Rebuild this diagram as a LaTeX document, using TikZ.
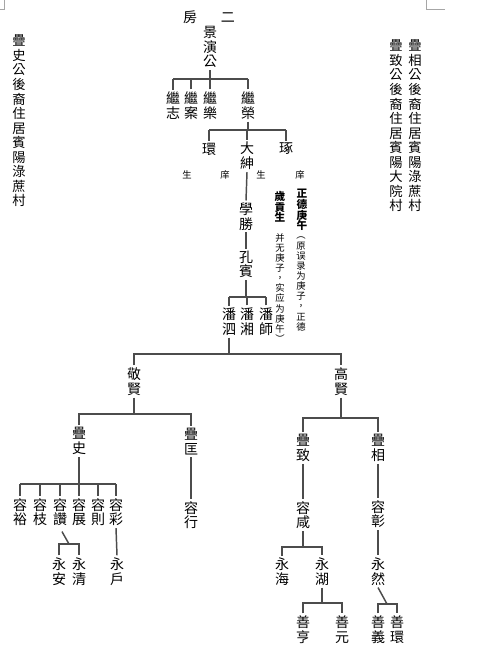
\documentclass[tikz,border=0pt]{standalone}
\usepackage{fontspec}
\newfontfamily\zh{Noto Sans CJK TC}
\tikzset{
  kin/.style={font=\zh\fontsize{10.5}{11}\selectfont, align=center, inner sep=1.5pt},
  sidetext/.style={font=\zh\fontsize{10}{10.9}\selectfont, align=center, inner sep=0pt},
  gloss/.style={font=\zh\fontsize{7}{7.6}\selectfont, align=center, inner sep=0pt},
  honor/.style={font=\zh\bfseries\fontsize{8}{8}\selectfont, align=center, inner sep=0pt},
  kinline/.style={draw=black!70, line width=1.1pt},
}
\begin{document}
\begin{tikzpicture}[x=0.75pt,y=-0.75pt]
\fill[white] (0,0) rectangle (484,652);
\useasboundingbox (0,0) rectangle (484,652);
% page corner marks
\draw[black!35] (4,0) -- (4,9) -- (0,9);
\draw[black!35] (426,0) -- (426,9) -- (445,9);
% side texts
\node[sidetext] (sideshi) at (19,121) {疊\\史\\公\\後\\裔\\住\\居\\賓\\陽\\淥\\蔗\\村};
\node[sidetext] (sidezhi) at (396,126) {疊\\致\\公\\後\\裔\\住\\居\\賓\\陽\\大\\院\\村};
\node[sidetext] (sidexiang) at (415,126) {疊\\相\\公\\後\\裔\\住\\居\\賓\\陽\\淥\\蔗\\村};
% tree
\node[kin] (fang) at (209,17) {房\hspace{18pt}二};
\node[kin] (jy) at (210,47) {景\\演\\公};
\node[kin] (jz) at (173,105.5) {繼\\志};
\node[kin] (ja) at (191,105.5) {繼\\案};
\node[kin] (jl) at (210,105.5) {繼\\樂};
\node[kin] (jr) at (248,105.5) {繼\\榮};
\node[kin] (huan) at (209,149) {環};
\node[kin] (dashen) at (247,156) {大\\紳};
\node[kin] (zhuo) at (286,149) {琢};
\node[kin] (xuesheng) at (246,216.5) {學\\勝};
\node[kin] (kongbin) at (246,264.5) {孔\\賓};
\node[kin] (pansi) at (229,321.5) {潘\\泗};
\node[kin] (panxiang) at (247,321.5) {潘\\湘};
\node[kin] (panshi) at (266,321.5) {潘\\師};
\node[kin] (jingxian) at (134,381.5) {敬\\賢};
\node[kin] (gaoxian) at (341,381.5) {高\\賢};
\node[kin] (dieshi) at (79,441) {疊\\史};
\node[kin] (diekuang) at (191,441.5) {疊\\匡};
\node[kin] (diezhi) at (303,448) {疊\\致};
\node[kin] (diexiang) at (378,448) {疊\\相};
\node[kin] (rongyu) at (20,512) {容\\裕};
\node[kin] (rongzhi) at (40,512) {容\\枝};
\node[kin] (rongzan) at (60,512) {容\\讚};
\node[kin] (rongzhan) at (79,512) {容\\展};
\node[kin] (rongze) at (98,512) {容\\則};
\node[kin] (rongcai) at (116,512) {容\\彩};
\node[kin] (rongxing) at (191,515) {容\\行};
\node[kin] (rongxian) at (303,515) {容\\咸};
\node[kin] (rongzhang) at (378,514) {容\\彰};
\node[kin] (yongan) at (59,571.5) {永\\安};
\node[kin] (yongqing) at (79,571.5) {永\\清};
\node[kin] (yonghu) at (117,571.5) {永\\戶};
\node[kin] (yonghai) at (282,571.5) {永\\海};
\node[kin] (yonghuhu) at (322,571.5) {永\\湖};
\node[kin] (yongran) at (378,571.5) {永\\然};
\node[kin] (shanheng) at (303,629.5) {善\\亨};
\node[kin] (shanyuan) at (342,629.5) {善\\元};
\node[kin] (shanyi) at (378,629.5) {善\\義};
\node[kin] (shanhuan) at (397,629.5) {善\\環};
% notes
\node[gloss] (sheng1) at (187,175) {生};
\node[gloss] (xiang1) at (225,175) {庠};
\node[gloss] (sheng2) at (261,175) {生};
\node[gloss] (xiang2) at (300,175) {庠};
\node[honor, anchor=north] (zhengde) at (302,189) {正\\德\\庚\\午};
\node[gloss, anchor=north] (noteA) at (301,237) {︵\\原\\误\\录\\为\\庚\\子\\，\\正\\德};
\node[honor, anchor=north] (suigong) at (280,191) {歲\\貢\\生};
\node[gloss, anchor=north] (noteB) at (280,233) {并\\无\\庚\\子\\，\\实\\应\\为\\庚\\午\\︶};
% bars
\coordinate (b1) at (210,79);
\coordinate (b2) at (248,130);
\coordinate (b3) at (246,297);
\coordinate (b4) at (229,354);
\coordinate (b5) at (134,414);
\coordinate (b6) at (341,418);
\coordinate (b7) at (79,484);
\coordinate (b8) at (69,544);
\coordinate (b9) at (303,547);
\coordinate (b10) at (322,603);
\coordinate (b11) at (387,604);
% connectors
\draw[kinline] (jy.south) -- (jy.south |- b1);
\draw[kinline] (jz.north |- b1) -- (jr.north |- b1);
\foreach \c in {jz,ja,jl,jr} \draw[kinline] (\c.north) -- (\c.north |- b1);
\draw[kinline] (jr.south) -- (jr.south |- b2);
\draw[kinline] (huan.north |- b2) -- (zhuo.north |- b2);
\foreach \c in {huan,dashen,zhuo} \draw[kinline] (\c.north) -- (\c.north |- b2);
\draw[kinline] (dashen.south) -- (xuesheng.north);
\draw[kinline] (xuesheng.south) -- (kongbin.north);
\draw[kinline] (kongbin.south) -- (kongbin.south |- b3);
\draw[kinline] (pansi.north |- b3) -- (panshi.north |- b3);
\foreach \c in {pansi,panxiang,panshi} \draw[kinline] (\c.north) -- (\c.north |- b3);
\draw[kinline] (pansi.south) -- (b4);
\draw[kinline] (jingxian.north) |- (b4) -| (gaoxian.north);
\draw[kinline] (jingxian.south) -- (b5);
\draw[kinline] (dieshi.north) |- (b5) -| (diekuang.north);
\draw[kinline] (gaoxian.south) -- (b6);
\draw[kinline] (diezhi.north) |- (b6) -| (diexiang.north);
\draw[kinline] (dieshi.south) -- (b7);
\draw[kinline] (rongyu.north |- b7) -- (rongcai.north |- b7);
\foreach \c in {rongyu,rongzhi,rongzan,rongzhan,rongze,rongcai} \draw[kinline] (\c.north) -- (\c.north |- b7);
\draw[kinline] (diekuang.south) -- (rongxing.north);
\draw[kinline, shorten <=3pt] (rongzan.south) -- (b8);
\draw[kinline] (yongan.north) |- (b8) -| (yongqing.north);
\draw[kinline] (rongcai.south) -- (yonghu.north);
\draw[kinline] (diezhi.south) -- (rongxian.north);
\draw[kinline] (rongxian.south) -- (b9);
\draw[kinline] (yonghai.north) |- (b9) -| (yonghuhu.north);
\draw[kinline] (yonghuhu.south) -- (b10);
\draw[kinline] (shanheng.north) |- (b10) -| (shanyuan.north);
\draw[kinline] (diexiang.south) -- (rongzhang.north);
\draw[kinline] (rongzhang.south) -- (yongran.north);
\draw[kinline] (yongran.south) -- (b11);
\draw[kinline] (shanyi.north) |- (b11) -| (shanhuan.north);
\end{tikzpicture}
\end{document}
